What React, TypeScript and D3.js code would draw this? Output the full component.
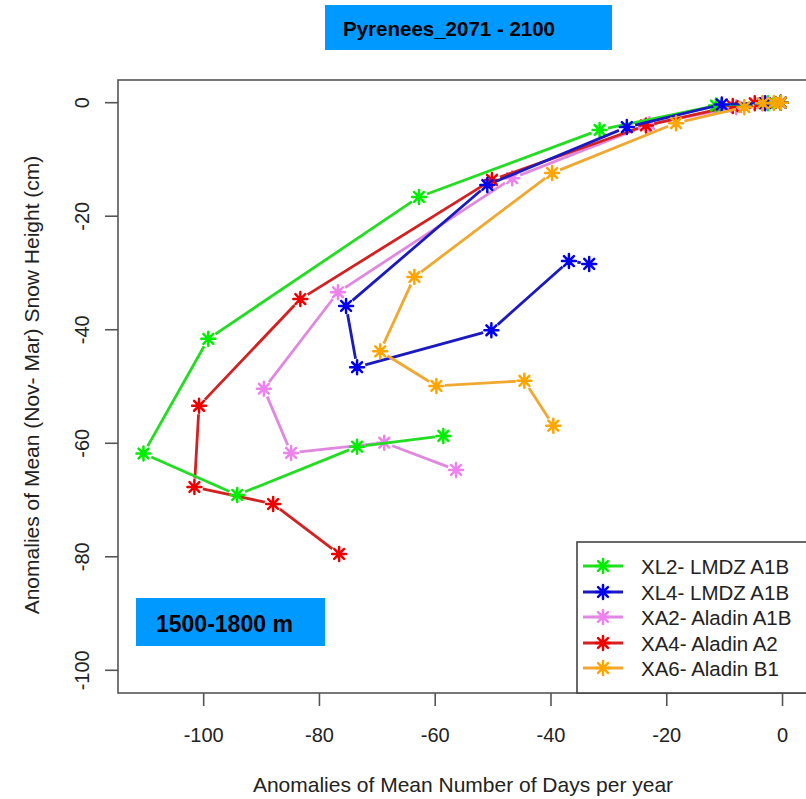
import React from "react";
import * as d3 from "d3";

const seriesNames = ["XL2- LMDZ A1B", "XL4- LMDZ A1B", "XA2- Aladin A1B", "XA4- Aladin A2", "XA6- Aladin B1"];
const seriesColors = ["#00ee00", "#0000ee", "#ee82ee", "#ee0000", "#ffa500"];
const lineColors = ["#22dd22", "#1a1ac0", "#e088e0", "#d42020", "#f0a830"];

const greenX = [-0.3, -2.5, -11.5, -31.6, -62.8, -99.2, -110.4, -94.2, -73.5, -58.6];
const greenY = [0, -0.1, -0.5, -4.8, -16.6, -41.6, -61.8, -69.1, -60.6, -58.7];
const blueX = [-0.3, -3.0, -10.5, -26.9, -51.0, -75.4, -73.5, -50.3, -36.9, -33.4];
const blueY = [0, -0.1, -0.3, -4.3, -14.5, -35.8, -46.6, -40.1, -27.9, -28.4];
const pinkX = [-0.3, -3.5, -8.0, -23.0, -46.7, -76.8, -89.6, -84.9, -68.8, -56.4];
const pinkY = [0, -0.1, -0.8, -3.8, -13.3, -33.4, -50.4, -61.7, -59.9, -64.7];
const redX = [-0.3, -4.8, -8.6, -23.6, -50.2, -83.3, -100.8, -101.6, -88.0, -76.6];
const redY = [0, -0.1, -0.6, -4.0, -13.6, -34.6, -53.4, -67.7, -70.7, -79.5];
const orangeX = [-0.3, -1.5, -3.4, -6.6, -18.4, -39.8, -63.6, -69.5, -59.8, -44.6, -39.6];
const orangeY = [0, -0.05, -0.1, -0.8, -3.6, -12.4, -30.7, -43.8, -49.9, -49.0, -56.9];

const xTicks = [-100, -80, -60, -40, -20, 0];
const yTicks = [0, -20, -40, -60, -80, -100];

const seriesX = [greenX, blueX, pinkX, redX, orangeX];
const seriesY = [greenY, blueY, pinkY, redY, orangeY];
const drawOrder = [2, 3, 0, 1, 4];

const FONT = "'Liberation Sans', Arial, sans-serif";

function Star({ cx, cy, color, r = 7 }: { cx: number; cy: number; color: string; r?: number }) {
  const d = r * Math.SQRT1_2;
  const p = `M${cx - r},${cy}L${cx + r},${cy}M${cx},${cy - r}L${cx},${cy + r}M${cx - d},${cy - d}L${cx + d},${cy + d}M${cx - d},${cy + d}L${cx + d},${cy - d}`;
  return <path d={p} stroke={color} strokeWidth={2.5} fill="none" strokeLinecap="round" />;
}

export default function App() {
  const x = d3.scaleLinear().domain([-114.8, 4.4]).range([118, 808]);
  const y = d3.scaleLinear().domain([-104, 4]).range([693, 80]);
  const gap = 8.5;

  const series = drawOrder.map((si) => {
    const pts = seriesX[si].map((v, i) => [x(v), y(seriesY[si][i])] as [number, number]);
    const segs: string[] = [];
    for (let i = 0; i < pts.length - 1; i++) {
      const [x0, y0] = pts[i];
      const [x1, y1] = pts[i + 1];
      const len = Math.hypot(x1 - x0, y1 - y0);
      if (len <= 2 * gap) continue;
      const ux = (x1 - x0) / len, uy = (y1 - y0) / len;
      segs.push(`M${x0 + ux * gap},${y0 + uy * gap}L${x1 - ux * gap},${y1 - uy * gap}`);
    }
    return (
      <g key={si}>
        <path d={segs.join("")} stroke={lineColors[si]} strokeWidth={2.8} fill="none" />
        {pts.map((p, i) => (
          <Star key={i} cx={p[0]} cy={p[1]} color={seriesColors[si]} />
        ))}
      </g>
    );
  });

  const legendRows = [574, 600, 625, 651, 676];

  return (
    <svg width={806} height={799} style={{ position: "absolute", left: 0, top: 0, background: "#fff" }} fontFamily={FONT}>
      <rect x={0} y={0} width={806} height={799} fill="#fff" />
      {/* title */}
      <rect x={325} y={5} width={287} height={45} fill="#0099ff" />
      <text x={343} y={36} fontSize={20.5} fontWeight="bold" fill="#000">Pyrenees_2071 - 2100</text>

      {/* plot box */}
      <rect x={118} y={80} width={690} height={613} fill="none" stroke="#555" strokeWidth={1.6} />

      {/* x axis */}
      {xTicks.map((t) => (
        <g key={t}>
          <line x1={x(t)} x2={x(t)} y1={693} y2={706} stroke="#555" strokeWidth={1.6} />
          <text x={x(t)} y={742} fontSize={20} textAnchor="middle" fill="#222">{t}</text>
        </g>
      ))}
      {/* y axis */}
      {yTicks.map((t) => (
        <g key={t}>
          <line x1={105} x2={118} y1={y(t)} y2={y(t)} stroke="#555" strokeWidth={1.6} />
          <text transform={`translate(89,${y(t)}) rotate(-90)`} fontSize={20} textAnchor="middle" fill="#222">{t}</text>
        </g>
      ))}
      <text x={463} y={792} fontSize={21} textAnchor="middle" fill="#222">Anomalies of Mean Number of Days per year</text>
      <text transform={`translate(39,385) rotate(-90)`} fontSize={21} textAnchor="middle" fill="#222">Anomalies of Mean (Nov- Mar) Snow Height (cm)</text>

      {/* series */}
      <g>{series}</g>

      {/* legend */}
      <rect x={577} y={542} width={240} height={151} fill="#fff" stroke="#444" strokeWidth={1.6} />
      {seriesNames.map((n, i) => (
        <g key={n}>
          <line x1={583} x2={623} y1={legendRows[i] - 8} y2={legendRows[i] - 8} stroke={lineColors[i]} strokeWidth={2.8} />
          <Star cx={603} cy={legendRows[i] - 8} color={seriesColors[i]} />
          <text x={641} y={legendRows[i]} fontSize={20.5} fill="#222">{n}</text>
        </g>
      ))}

      {/* elevation label */}
      <rect x={136} y={598} width={189} height={48} fill="#0099ff" />
      <text x={156} y={632} fontSize={23} fontWeight="bold" fill="#000">1500-1800 m</text>
    </svg>
  );
}
